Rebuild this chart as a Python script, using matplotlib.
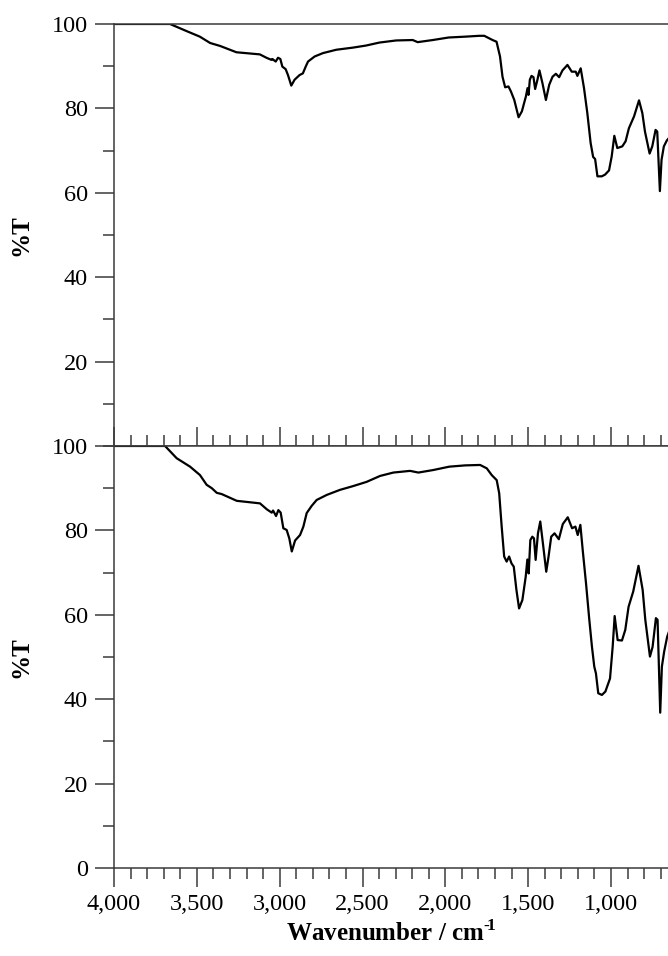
import matplotlib
matplotlib.use('Agg')
import matplotlib.pyplot as plt
from matplotlib.ticker import MultipleLocator, StrMethodFormatter

# top spectrum
wn_top = [4000, 3800, 3662, 3561, 3482, 3420, 3360, 3261, 3120, 3080, 3050, 3044, 3024, 3010,
          2996, 2984, 2964, 2950, 2930, 2910, 2880, 2860, 2843, 2829, 2789, 2739, 2658, 2558,
          2478, 2398, 2297, 2197, 2167, 2076, 1980, 1880, 1795, 1765, 1715, 1691, 1670, 1655,
          1639, 1619, 1604, 1584, 1558, 1538, 1514, 1504, 1498, 1490, 1480, 1468, 1458, 1444,
          1432, 1414, 1393, 1373, 1353, 1333, 1313, 1293, 1263, 1237, 1213, 1203, 1183, 1163,
          1143, 1123, 1108, 1096, 1082, 1056, 1036, 1012, 996, 980, 962, 932, 912, 892, 861,
          831, 811, 795, 767, 751, 731, 721, 705, 695, 681, 663, 650]
t_top = [100, 100, 100, 98.3, 97.0, 95.5, 94.8, 93.3, 92.8, 92.0, 91.5, 91.7, 91.1, 92.0,
         91.7, 89.9, 89.3, 87.9, 85.4, 86.8, 87.9, 88.3, 89.9, 91.1, 92.3, 93.1, 93.9, 94.4,
         94.9, 95.6, 96.1, 96.2, 95.7, 96.2, 96.8, 97.0, 97.2, 97.2, 96.2, 95.8, 92.3, 87.5,
         85.0, 85.2, 84.0, 82.0, 77.9, 79.3, 82.8, 84.8, 83.2, 86.8, 87.7, 87.4, 84.6, 86.8,
         89.0, 86.0, 82.0, 85.6, 87.5, 88.2, 87.4, 89.0, 90.3, 88.7, 88.7, 87.7, 89.5, 84.8,
         78.9, 71.8, 68.5, 68.0, 63.9, 63.9, 64.3, 65.3, 68.6, 73.5, 70.6, 71.0, 72.2, 75.3, 78.1,
         81.9, 78.9, 74.5, 69.3, 71.0, 74.9, 74.5, 60.4, 67.8, 71.0, 72.4, 73.0]

# bottom spectrum
wn_bot = [4000, 3800, 3692, 3622, 3541, 3481, 3441, 3410, 3380, 3350, 3259, 3119, 3078, 3048,
          3040, 3022, 3008, 2994, 2978, 2958, 2942, 2927, 2907, 2877, 2857, 2837, 2807, 2777,
          2716, 2636, 2556, 2475, 2394, 2314, 2213, 2163, 2073, 1976, 1880, 1790, 1750, 1720,
          1690, 1675, 1660, 1645, 1630, 1615, 1601, 1587, 1571, 1555, 1535, 1515, 1505, 1497,
          1487, 1475, 1465, 1455, 1441, 1427, 1411, 1391, 1377, 1361, 1341, 1315, 1291, 1261,
          1235, 1215, 1201, 1185, 1171, 1151, 1131, 1115, 1101, 1091, 1077, 1055, 1034, 1006,
          990, 978, 960, 934, 914, 894, 866, 834, 809, 793, 765, 749, 729, 719, 703, 693, 679,
          661, 650]
t_bot = [100, 100, 100, 97.1, 95.1, 93.1, 90.8, 90.0, 88.9, 88.6, 87.0, 86.4, 85.0, 84.2,
         84.7, 83.4, 84.8, 84.2, 80.5, 80.1, 78.1, 75.0, 77.6, 78.9, 80.9, 84.1, 85.8, 87.2,
         88.4, 89.6, 90.5, 91.5, 92.9, 93.7, 94.1, 93.7, 94.3, 95.1, 95.4, 95.5, 94.7, 93.1,
         91.9, 88.8, 80.9, 73.8, 72.6, 73.8, 72.2, 71.4, 65.9, 61.5, 63.5, 69.0, 73.1, 69.8,
         77.7, 78.5, 78.1, 73.0, 79.3, 82.1, 76.9, 70.2, 73.8, 78.5, 79.3, 77.9, 81.5, 83.1,
         80.5, 80.9, 78.9, 81.3, 75.4, 67.5, 58.8, 52.4, 47.7, 46.1, 41.4, 41.0, 41.8, 44.9,
         52.4, 59.7, 54.0, 53.9, 56.4, 61.9, 65.5, 71.6, 65.9, 58.8, 50.1, 52.4, 59.2, 58.8,
         36.8, 47.7, 51.3, 54.8, 56.0]

plt.rcParams['font.family'] = ['Liberation Serif', 'DejaVu Serif']
plt.rcParams['mathtext.fontset'] = 'custom'
plt.rcParams['mathtext.rm'] = 'Liberation Serif'
plt.rcParams['mathtext.bf'] = 'Liberation Serif:bold'

fig = plt.figure(figsize=(6.68, 9.56), dpi=100)
left, width = 0.1707, 0.8293
ax1 = fig.add_axes([left, 0.5335, width, 0.4414])
ax2 = fig.add_axes([left, 0.0921, width, 0.4414])

spine_col = '#3a3a3a'
for ax in (ax1, ax2):
    ax.set_xlim(4000, 656)
    ax.set_ylim(0, 100)
    ax.spines['right'].set_visible(False)
    for s in ax.spines.values():
        s.set_color(spine_col)
        s.set_linewidth(1.1)
    ax.xaxis.set_major_locator(MultipleLocator(500))
    ax.xaxis.set_minor_locator(MultipleLocator(100))
    ax.yaxis.set_major_locator(MultipleLocator(20))
    ax.yaxis.set_minor_locator(MultipleLocator(10))
    ax.tick_params(which='major', length=14, width=1.1, color=spine_col, labelsize=17.5, pad=5)
    ax.tick_params(which='minor', length=8, width=1.1, color=spine_col)
    ax.tick_params(axis='y', which='both', direction='out', right=False)
    ax.set_ylabel('%T', fontsize=18, fontweight='bold')
    ax.yaxis.set_label_coords(-0.148, 0.5)

ax1.plot(wn_top, t_top, color='black', lw=1.6)
ax2.plot(wn_bot, t_bot, color='black', lw=1.6)

ax1.set_yticks([20, 40, 60, 80, 100])
ax1.tick_params(axis='x', which='both', direction='in', top=False, labelbottom=False)
ax2.tick_params(axis='x', which='both', direction='out', top=False)
ax2.set_yticks([0, 20, 40, 60, 80, 100])
ax2.xaxis.set_major_formatter(StrMethodFormatter('{x:,.0f}'))

ax2.set_xlabel('Wavenumber / cm$^{\\mathbf{\u2010\\!1}}$', fontsize=18, fontweight='bold')
ax2.xaxis.set_label_coords(0.5, -0.125)

fig.savefig('out.png', dpi=100)
